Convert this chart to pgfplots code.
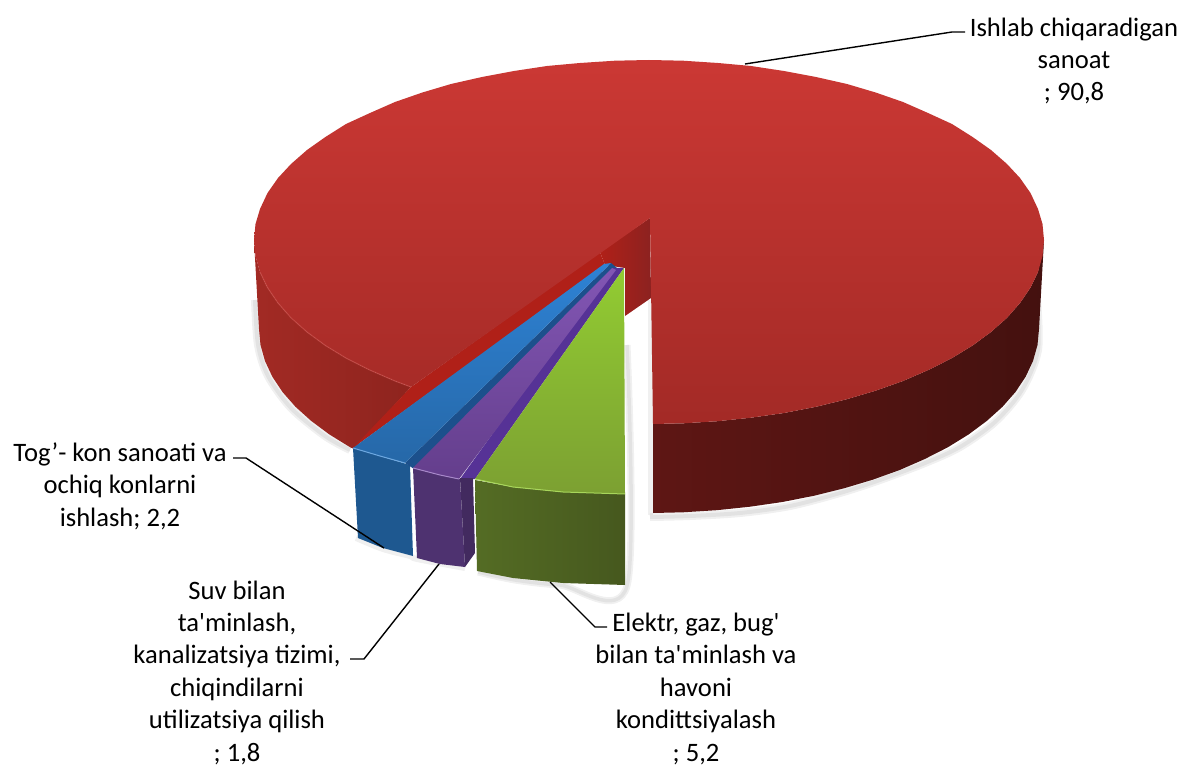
\documentclass[border=0pt]{standalone}
\usepackage{pgfplots}
\pgfplotsset{compat=1.18}
\usepackage{fontspec}
\setmainfont{Carlito}[Ligatures=TeXOff]
% colours
\definecolor{redA}{RGB}{203,56,52}
\definecolor{redB}{RGB}{183,50,46}
\definecolor{redC}{RGB}{163,42,38}
\definecolor{redSideL}{RGB}{162,42,36}
\definecolor{redSideM}{RGB}{142,36,30}
\definecolor{redSideD}{RGB}{94,22,20}
\definecolor{redSideE}{RGB}{68,17,15}
\definecolor{redIn}{RGB}{176,32,24}
\definecolor{redApex}{RGB}{140,34,32}
\definecolor{greenA}{RGB}{146,204,50}
\definecolor{greenB}{RGB}{124,160,50}
\definecolor{greenS}{RGB}{84,108,36}
\definecolor{greenT}{RGB}{70,88,30}
\definecolor{blueA}{RGB}{46,130,212}
\definecolor{blueB}{RGB}{38,104,168}
\definecolor{blueS}{RGB}{30,88,144}
\definecolor{blueT}{RGB}{28,80,140}
\definecolor{purpA}{RGB}{130,86,180}
\definecolor{purpB}{RGB}{100,62,140}
\definecolor{purpS}{RGB}{78,50,112}
\definecolor{purpD}{RGB}{86,50,150}
\tikzset{lab/.style={font=\fontsize{26.6}{32.4}\selectfont, align=center, text=black, inner sep=0pt, anchor=base}}
\pgfplotsset{soft/.style={gray, line width=#1, opacity=0.12, line join=round, smooth}}
\begin{document}
\begin{tikzpicture}
\useasboundingbox (0,0) rectangle (1180pt,767pt);
\begin{axis}[
  at={(0,0)}, anchor=south west,
  scale only axis, width=1180pt, height=767pt,
  xmin=0, xmax=1180, ymin=0, ymax=767,
  y dir=reverse, hide axis, clip=false
]
% soft shadows
\addplot[soft=8pt] coordinates {(1037,300)(1038,350)(1022,390)(995,422)(960,447)(925,463)(880,480)(840,493)(790,506)(740,513)(690,516)(650,517)};
\addplot[soft=4pt] coordinates {(1037,300)(1038,350)(1022,390)(995,422)(960,447)(925,463)(880,480)(840,493)(790,506)(740,513)(690,516)(650,517)};
\addplot[soft=8pt] coordinates {(255,300)(258,345)(268,376)(291,408)(325,436)(350,450)};
\addplot[soft=4pt] coordinates {(255,300)(258,345)(268,376)(291,408)(325,436)(350,450)};
\addplot[soft=7pt] coordinates {(627,345)(627,586)(560,585)(515,580)(478,572)};
\addplot[soft=3.5pt] coordinates {(627,345)(627,586)(560,585)(515,580)(478,572)};
\addplot[soft=5pt] coordinates {(650,300)(650,515)};
\addplot[soft=6pt] coordinates {(356,538)(383,549)(410,556)(417,559)(465,568)};
% red slice, side walls
\addplot[draw=none, left color=redSideL, right color=redSideM] coordinates {
 (254,240)(255.5,256)(260,272)(267.5,287.6)(278,303)(291,317.8)(307,332)(325.4,345.5)(346.4,358.3)(369.7,370)(395,381)(411,387)
 (354,449)(350.2,447.3)(329.5,434.5)(311.3,421)(295.5,406.8)(282.5,392)(272.3,376.6)(265,361)(260.5,345)(259,329)};
\addplot[draw=none, left color=redSideD, right color=redSideE] coordinates {
 (653,424)(683.4,423.3)(717.6,421.2)(751,417.7)(784,413)(816,406.8)(846.5,399.3)(875.6,390.7)(903,381)(928.3,370)(951.6,358.3)(972.6,345.5)(991,332)(1007,317.8)(1020,303)(1030.5,287.6)(1038,272)(1044,240)
 (1039,329)(1037.5,345)(1033,361)(1025.7,376.6)(1015.5,392)(1002.5,406.8)(986.7,421)(968.5,434.5)(947.8,447.3)(924.8,459)(899.7,470)(872.7,479.7)(844,488.3)(813.8,495.8)(782.4,502)(750,506.7)(716.7,510.2)(683,512.3)(653,513)};
% red slice, inner faces
\addplot[draw=none, fill=redIn] coordinates {(411,387)(600,252)(605,265)(353,448)};
\addplot[draw=none, left color=redIn, right color=redApex] coordinates {(600,252)(650,218)(651,298)(625,316)(625,268)(605,265)};
% red slice, top
\addplot[draw=none, top color=redA, middle color=redB, bottom color=redC] coordinates {
 (653,424)(683.4,423.3)(717.6,421.2)(751,417.7)(784,413)(816,406.8)(846.5,399.3)(875.6,390.7)(903,381)(928.3,370)(951.6,358.3)(972.6,345.5)(991,332)(1007,317.8)(1020,303)(1030.5,287.6)(1038,272)(1042.5,256)
 (1044,240)(1042.5,224)(1038,209)(1030.5,193)(1020,178)(1007,164)(991,150)(972.6,137)(952,124)(928,113)(903,102)(875.6,92.5)(847,84)(816,77)(784,71)(751,66)(718,63)(683,60.7)
 (649,60)(615,60.7)(580,63)(547,66)(514,71)(482,77)(451,84)(422.4,92.5)(395,102)(370,113)(346,124)(325.4,137)(307,150)(291,164)(278,178)(267.5,193)(260,209)(255.5,224)
 (254,240)(255.5,256)(260,272)(267.5,287.6)(278,303)(291,317.8)(307,332)(325.4,345.5)(346.4,358.3)(369.7,370)(395,381)(411,387)(650,218)};
\addplot[redA!85!white, line width=1.2pt, opacity=0.45] coordinates {(260,272)(267.5,287.6)(278,303)(291,317.8)(307,332)(325.4,345.5)(346.4,358.3)(369.7,370)(395,381)(411,387)};
% blue slice
\addplot[draw=none, fill=blueS] coordinates {(353,448)(410,465)(413,556)(383,548)(358,538)};
\addplot[draw=none, fill=blueT] coordinates {(405,463)(611,263)(617,268)(414,469)};
\addplot[draw=none, top color=blueA, bottom color=blueB] coordinates {(604,264)(611,263)(405,463)(380,456)(353,448)};
\addplot[blueA!70!white, line width=1pt] coordinates {(353,448)(380,456)(405,463)};
% purple slice
\addplot[draw=none, fill=purpS] coordinates {(413,468)(460,479)(465,567)(440,564)(417,558)};
\addplot[draw=none, fill=purpD] coordinates {(460,479)(475,479)(624,268)(612,268)};
\addplot[draw=none, fill=purpS!85!black] coordinates {(460,478)(473,478)(475,553)(465,567)};
\addplot[draw=none, top color=purpA, bottom color=purpB] coordinates {(612,268)(616,270)(459,479)(440,475)(413,468)};
\addplot[purpA!70!white, line width=1pt] coordinates {(413,468)(440,475)(459,479)};
% green slice
\addplot[draw=none, left color=greenS, right color=greenT] coordinates {(475,480)(513,487)(563,492)(625,494)(625,585)(563,583)(513,578)(477,571)};
\addplot[draw=none, top color=greenA, bottom color=greenB] coordinates {(624,268)(625,494)(563,492)(513,487)(475,479)};
\addplot[greenA!80!white, line width=1pt] coordinates {(475,479)(513,487)(563,492)(625,494)};
% leader lines
\addplot[black, line width=1.4pt] coordinates {(745,64)(952,32)(965,32)};
\addplot[black, line width=1.4pt] coordinates {(233,458)(246,458)(384,548)};
\addplot[black, line width=1.4pt] coordinates {(350,659)(364,659)(439,564)};
\addplot[black, line width=1.4pt] coordinates {(550,582)(595,627)(607,627)};
% labels (anchored on the baseline of the last line)
\node[lab] at (axis cs:1074,101) {Ishlab chiqaradigan\\sanoat\\; 90,8};
\node[lab] at (axis cs:120,526) {Tog’- kon sanoati va\\ochiq konlarni\\ishlash; 2,2};
\node[lab] at (axis cs:237,761) {Suv bilan\\ta'minlash,\\kanalizatsiya tizimi,\\chiqindilarni\\utilizatsiya qilish\\; 1,8};
\node[lab] at (axis cs:696,761) {Elektr, gaz, bug'\\bilan ta'minlash va\\havoni\\kondittsiyalash\\; 5,2};
\end{axis}
\end{tikzpicture}
\end{document}
